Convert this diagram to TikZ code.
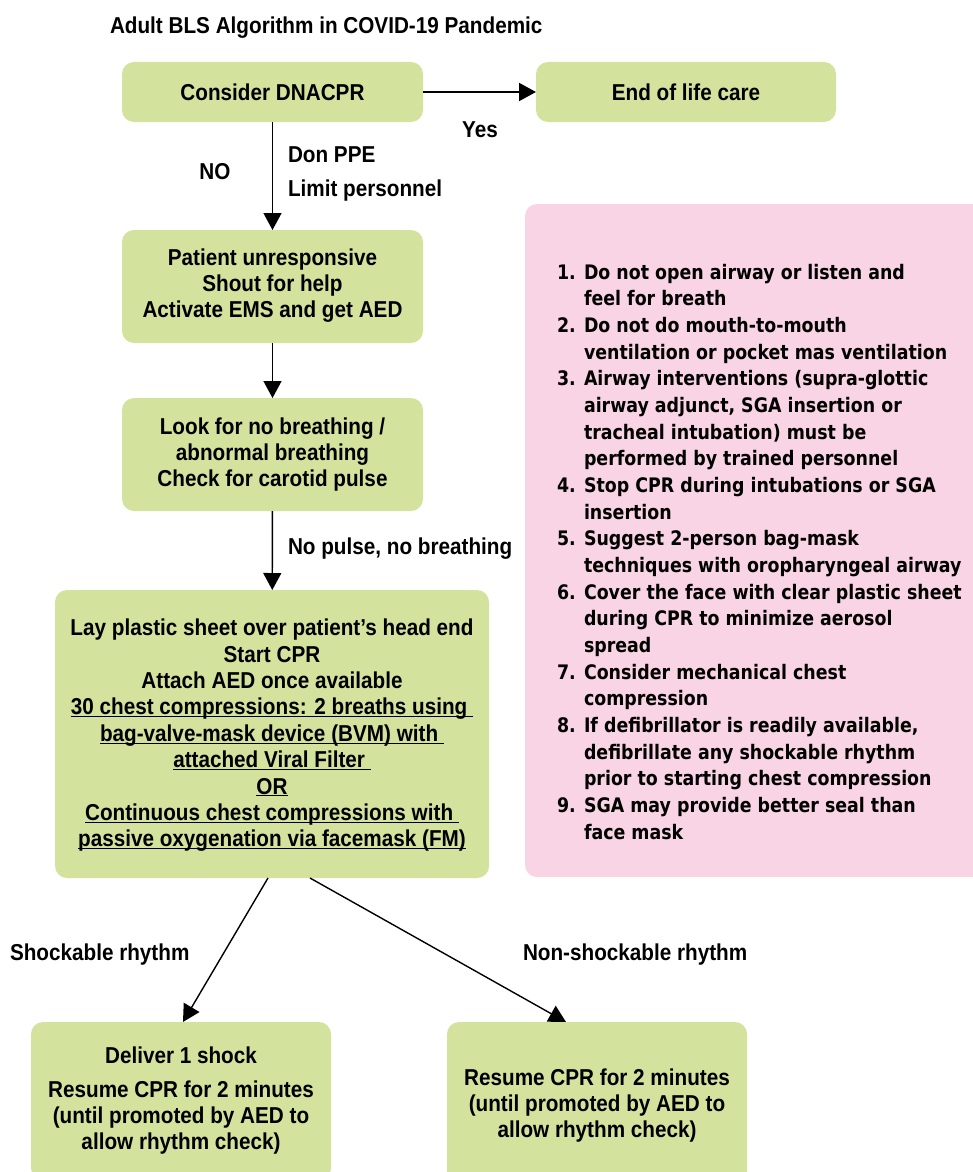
\documentclass[tikz,border=0pt]{standalone}
\usepackage{fontspec}
\newfontfamily\fa[FakeStretch=0.9]{Liberation Sans}
\newfontfamily\fb[FakeStretch=0.87]{DejaVu Sans}
\usetikzlibrary{arrows.meta}
\definecolor{boxgreen}{RGB}{211,226,157}
\definecolor{notepink}{RGB}{249,212,228}
\newcommand\ulx[1]{\underline{\smash{#1}}}
\newcommand\numx[1]{\makebox[27pt][l]{#1}}
\begin{document}
\begin{tikzpicture}[x=1pt,y=-1pt,
  every node/.style={inner sep=0pt, outer sep=0pt},
  gbox/.style={fill=boxgreen, rounded corners=12pt, align=center, font=\fa\bfseries\fontsize{23}{26}\selectfont},
  lbl/.style={font=\fa\bfseries\fontsize{23}{26}\selectfont},
  arr/.style={line width=1.4pt, -{Triangle[length=17pt,width=18pt]}}
]
\clip (0,0) rectangle (973,1172);
\node[gbox, minimum width=301pt, minimum height=60pt] (dna) at (272.5,92) {Consider DNACPR};
\node[gbox, minimum width=300pt, minimum height=60pt] (eol) at (686,92) {End of life care};
\node[gbox, minimum width=301pt, minimum height=113pt] (pat) at (272.5,286.5) {Patient unresponsive\\Shout for help\\Activate EMS and get AED\\[-19pt]\mbox{}};
\node[gbox, minimum width=301pt, minimum height=113pt] (look) at (272.5,454.5) {Look for no breathing /\\abnormal breathing\\Check for carotid pulse};
\node[gbox, minimum width=434pt, minimum height=288pt, font=\fa\bfseries\fontsize{23}{26.4}\selectfont] (cpr) at (272,734) {Lay plastic sheet over patient’s head end\\Start CPR\\Attach AED once available\\\ulx{30 chest compressions: 2 breaths using\ }\\\ulx{bag-valve-mask device (BVM) with\ }\\\ulx{attached Viral Filter\ }\\\ulx{OR}\\\ulx{Continuous chest compressions with\ }\\\ulx{passive oxygenation via facemask (FM)}};
\node[fill=notepink, rounded corners=12pt, minimum width=460pt, minimum height=673pt] (note) at (755,540.5) {};
\node[anchor=base west, font=\fb\bfseries\fontsize{20}{26.67}\selectfont] (list) at (557,279) {\begin{tabular}[t]{@{}l@{}l@{}}
\numx{1.} & Do not open airway or listen and\\
 & feel for breath\\
\numx{2.} & Do not do mouth-to-mouth\\
 & ventilation or pocket mas ventilation\\
\numx{3.} & Airway interventions (supra-glottic\\
 & airway adjunct, SGA insertion or\\
 & tracheal intubation) must be\\
 & performed by trained personnel\\
\numx{4.} & Stop CPR during intubations or SGA\\
 & insertion\\
\numx{5.} & Suggest 2-person bag-mask\\
 & techniques with oropharyngeal airway\\
\numx{6.} & Cover the face with clear plastic sheet\\
 & during CPR to minimize aerosol\\
 & spread\\
\numx{7.} & Consider mechanical chest\\
 & compression\\
\numx{8.} & If defibrillator is readily available,\\
 & defibrillate any shockable rhythm\\
 & prior to starting chest compression\\
\numx{9.} & SGA may provide better seal than\\
 & face mask
\end{tabular}};
\node[gbox, minimum width=300pt, minimum height=158pt, anchor=north] (del) at (181,1022) {Deliver 1 shock\\[8pt]Resume CPR for 2 minutes\\(until promoted by AED to\\allow rhythm check)};
\node[gbox, minimum width=300pt, minimum height=168pt, anchor=north] (res) at (597,1022) {Resume CPR for 2 minutes\\(until promoted by AED to\\allow rhythm check)};
\draw[arr, line width=2pt] (dna) -- (eol);
\draw[arr] (dna) -- (pat);
\draw[arr] (pat) -- (look);
\draw[arr] (look) -- (cpr);
\draw[arr] ([xshift=-4pt]cpr.south) -- ([xshift=2pt]del.north);
\draw[arr] ([xshift=38pt]cpr.south) -- ([xshift=-31pt]res.north);
\node[lbl] (yes) at (480,130) {Yes};
\node[lbl] (no) at (215,172) {NO};
\node[lbl, anchor=west] (ppe) at (288,155) {Don PPE};
\node[lbl, anchor=west] (lim) at (288,191) {Limit personnel};
\node[lbl, anchor=west] (np) at (288,549) {No pulse, no breathing};
\node[lbl, anchor=west] (sh) at (10,955) {Shockable rhythm};
\node[lbl, anchor=west] (ns) at (523,955) {Non-shockable rhythm};
\node[lbl, anchor=west] (title) at (110,28) {Adult BLS Algorithm in COVID-19 Pandemic};
\end{tikzpicture}
\end{document}
